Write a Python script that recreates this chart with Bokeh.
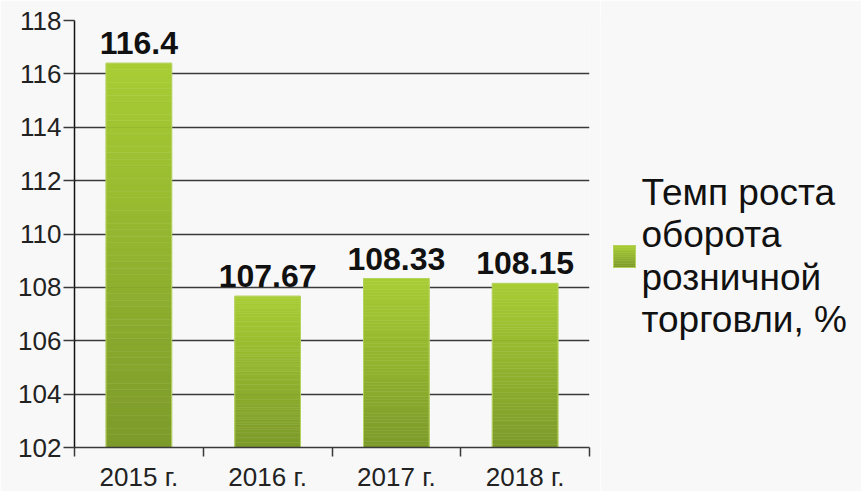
import numpy as np
from bokeh.plotting import figure
from bokeh.layouts import row
from bokeh.models import Range1d, FixedTicker
from bokeh.core.properties import value
from bokeh.embed import file_html
from bokeh.resources import INLINE

# ---- data ----
years = ["2015 г.", "2016 г.", "2017 г.", "2018 г."]
values = [116.4, 107.67, 108.33, 108.15]
value_labels = ["116.4", "107.67", "108.33", "108.15"]
y_ticks = [102, 104, 106, 108, 110, 112, 114, 116, 118]
legend_lines = ["Темп роста", "оборота", "розничной", "торговли, %"]
y_min, y_max = 102, 118

FONT = "Liberation Sans"
TOP_COL = (168, 205, 52)
BOT_COL = (124, 154, 42)
BG = "#f8f8f8"


def grad(t):
    col = tuple(int(round(BOT_COL[j] + (TOP_COL[j] - BOT_COL[j]) * t)) for j in range(3))
    return "#%02x%02x%02x" % col


p = figure(frame_width=515, frame_height=427, output_backend="svg", toolbar_location=None,
           x_range=Range1d(0, len(years)), y_range=Range1d(y_min, y_max),
           min_border_left=74, min_border_right=11, min_border_top=20, min_border_bottom=44)
p.background_fill_color = BG
p.border_fill_color = BG
p.outline_line_color = None

# gradient bars (slices derived from each value)
centers = [i + 0.5 for i in range(len(years))]
half = 0.255
N = 60
L, R, B, T, C = [], [], [], [], []
for cx, v in zip(centers, values):
    edges = np.linspace(y_min, v, N + 1)
    for k in range(N):
        c = grad((k + 0.5) / N)
        L.append(cx - half); R.append(cx + half)
        B.append(edges[k]); T.append(edges[k + 1])
        C.append(c)
p.quad(left=L, right=R, bottom=B, top=T, fill_color=C, line_color=C, line_width=0.5)
p.quad(left=[c - half for c in centers], right=[c + half for c in centers],
       bottom=[y_min] * len(values), top=values, fill_color=None,
       line_color="#b4d35e", line_width=1)

# value labels
p.text(x=centers, y=values, text=value_labels, text_align="center",
       text_baseline="middle", y_offset=-20, text_font=value(FONT),
       text_font_style="bold", text_font_size="32px", text_color="#111111")

# grid
p.xgrid.grid_line_color = None
p.ygrid.ticker = FixedTicker(ticks=y_ticks)
p.ygrid.grid_line_color = "#3a3a3a"
p.ygrid.grid_line_width = 1.5
p.ygrid.level = "underlay"

# y axis
ya = p.yaxis[0]
ya.ticker = FixedTicker(ticks=y_ticks)
ya.axis_line_color = "#111111"
ya.axis_line_width = 1.5
ya.major_tick_in = 0
ya.major_tick_out = 11
ya.major_tick_line_color = "#3a3a3a"
ya.major_tick_line_width = 1.5
ya.minor_tick_line_color = None
ya.major_label_standoff = 2
ya.major_label_text_font = FONT
ya.major_label_text_font_size = "26px"
ya.major_label_text_color = "#222222"

# x axis: labels at centres, ticks at boundaries
xa = p.xaxis[0]
xa.ticker = FixedTicker(ticks=centers, minor_ticks=list(range(len(years) + 1)))
xa.major_label_overrides = {c: y for c, y in zip(centers, years)}
xa.axis_line_color = "#3a3a3a"
xa.axis_line_width = 1.5
xa.major_tick_line_color = None
xa.major_tick_in = 0
xa.major_tick_out = 0
xa.minor_tick_in = 0
xa.minor_tick_out = 9
xa.minor_tick_line_color = "#3a3a3a"
xa.minor_tick_line_width = 1.5
xa.major_label_standoff = 5
xa.major_label_text_font = FONT
xa.major_label_text_font_size = "26px"
xa.major_label_text_color = "#222222"

# legend panel (separate figure; its frame is aligned with the main frame,
# so its y range is expressed in page pixels, downwards)
leg = figure(frame_width=261, frame_height=427, output_backend="svg", toolbar_location=None,
             x_range=Range1d(0, 261), y_range=Range1d(447, 20),
             x_axis_location=None, y_axis_location=None,
             min_border_left=0, min_border_right=0, min_border_top=20, min_border_bottom=44)
leg.background_fill_color = BG
leg.border_fill_color = BG
leg.outline_line_color = None
leg.grid.grid_line_color = None

sq_l, sq_r, sq_t, sq_b = 13, 35, 245, 267
M = 12
sq_edges = np.linspace(sq_b, sq_t, M + 1)
leg.quad(left=[sq_l] * M, right=[sq_r] * M, bottom=list(sq_edges[:-1]), top=list(sq_edges[1:]),
         fill_color=[grad((k + 0.5) / M) for k in range(M)],
         line_color=[grad((k + 0.5) / M) for k in range(M)], line_width=0.5)
leg.quad(left=[sq_l], right=[sq_r], bottom=[sq_b], top=[sq_t], fill_color=None,
         line_color="#b4d35e", line_width=1)

line_y = [192 + 42.3 * i for i in range(len(legend_lines))]
leg.text(x=[41] * len(legend_lines), y=line_y, text=legend_lines, text_align="left",
         text_baseline="middle", text_font=value(FONT), text_font_size="37px",
         text_color="#111111")

layout = row(p, leg)
open("out.html", "w").write(file_html(layout, INLINE))
